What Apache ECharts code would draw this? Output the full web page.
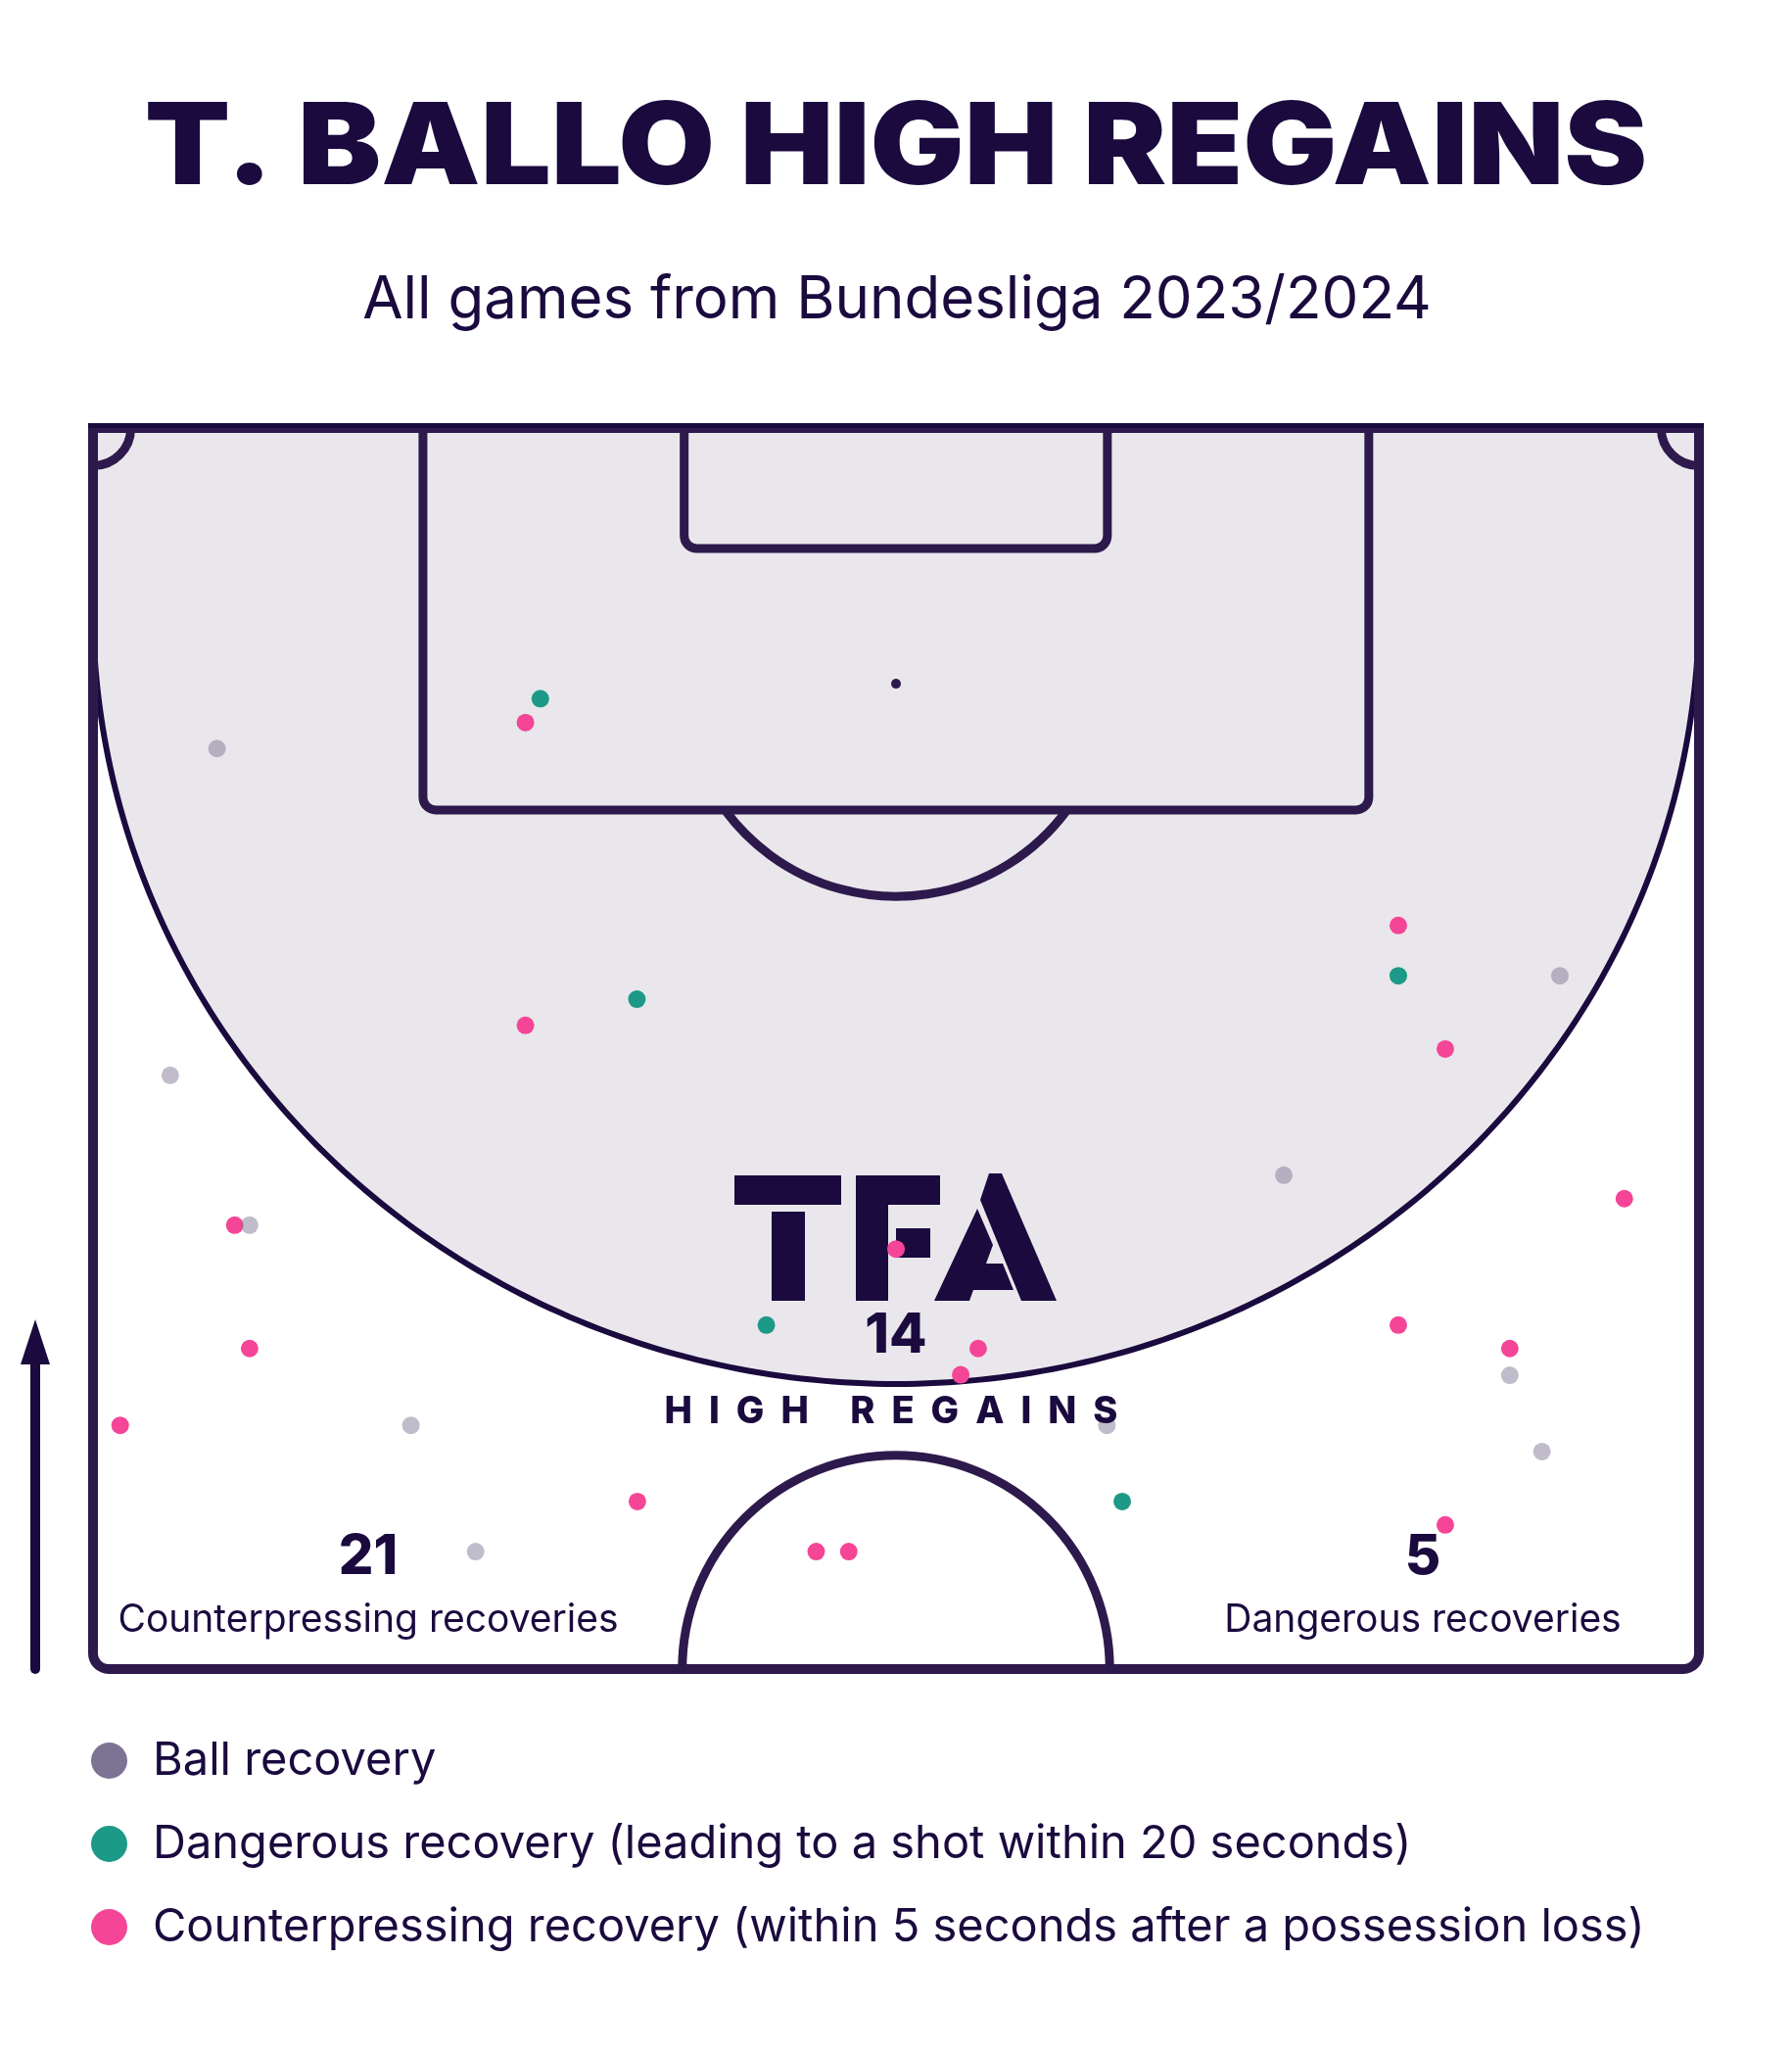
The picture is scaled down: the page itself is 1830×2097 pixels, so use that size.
<!DOCTYPE html>
<html><head><meta charset="utf-8">
<script src="https://cdn.jsdelivr.net/npm/echarts@6/dist/echarts.min.js"></script>
<style>html,body{margin:0;padding:0;background:#fff}#c{width:1830px;height:2097px}</style>
</head><body><div id="c"></div>
<script>
// ---- data (pitch metres: x across 0-68, y from goal line 0 to halfway 52.5) ----
const seriesNames = [
  'Ball recovery',
  'Dangerous recovery (leading to a shot within 20 seconds)',
  'Counterpressing recovery (within 5 seconds after a possession loss)'
];
const ballRecovery = [[5.25,13.56],[3.27,27.38],[6.63,33.72],[13.46,42.19],[16.20,47.53],[50.42,31.61],[62.11,23.17],[59.99,40.07],[61.35,43.30],[42.93,42.19]];
const dangerousRecovery = [[18.94,11.45],[23.03,24.16],[28.51,37.95],[55.27,23.17],[43.58,45.41]];
const counterpressingRecovery = [[18.31,12.46],[18.31,25.27],[6.00,33.72],[6.63,38.94],[1.15,42.19],[23.05,45.41],[30.62,47.53],[32.00,47.53],[34.00,34.73],[37.48,38.94],[36.74,40.05],[55.27,21.04],[57.26,26.27],[64.84,32.60],[55.27,37.95],[59.99,38.94],[57.26,46.40]];
const highRegainsCount = 14;
const counterpressingCount = 21;
const dangerousCount = 5;

// ---- styling ----
const TEXT = '#1a0a3e';
const LINE = '#2e194c';
const FONT = 'Inter, "Noto Sans", sans-serif';
const PITCH_W = 68, PITCH_L = 52.5;

function renderPitch(params, api) {
  const P = (x, y) => api.coord([x, y]);
  const tl = P(0, 0), br = P(PITCH_W, PITCH_L);
  const sx = (br[0] - tl[0]) / PITCH_W;
  const lw = 9;
  const ch = [];
  // high-regain zone
  const zCy = 7.58, zRx = 34, zRy = 32.86;
  const arc = [];
  for (let i = 0; i <= 240; i++) {
    const t = Math.PI * i / 240;
    arc.push(P(34 + zRx * Math.cos(t), zCy + zRy * Math.sin(t)));
  }
  ch.push({type: 'polygon', shape: {points: [P(0, 0), P(PITCH_W, 0)].concat(arc)}, style: {fill: '#e9e7ec'}});
  ch.push({type: 'polyline', shape: {points: arc}, style: {stroke: TEXT, lineWidth: 6, fill: 'none'}});
  // penalty box
  const b0 = P(13.97, 0), b1 = P(54.02, 16.16);
  ch.push({type: 'rect', shape: {x: b0[0], y: b0[1], width: b1[0] - b0[0], height: b1[1] - b0[1], r: [0, 0, 13, 13]}, style: {stroke: LINE, lineWidth: lw, fill: 'none'}});
  // six-yard box
  const s0 = P(25.03, 0), s1 = P(42.95, 5.10);
  ch.push({type: 'rect', shape: {x: s0[0], y: s0[1], width: s1[0] - s0[0], height: s1[1] - s0[1], r: [0, 0, 13, 13]}, style: {stroke: LINE, lineWidth: lw, fill: 'none'}});
  // penalty spot + arc
  const sp = P(34, 10.82);
  ch.push({type: 'circle', shape: {cx: sp[0], cy: sp[1], r: 5}, style: {fill: LINE}});
  const ar = 9.0 * sx;
  const a0 = Math.asin(Math.min(1, (b1[1] - sp[1]) / ar));
  ch.push({type: 'arc', shape: {cx: sp[0], cy: sp[1], r: ar, startAngle: a0, endAngle: Math.PI - a0, clockwise: true}, style: {stroke: LINE, lineWidth: lw, fill: 'none'}});
  // centre circle
  const cc = P(34, PITCH_L);
  ch.push({type: 'arc', shape: {cx: cc[0], cy: cc[1], r: 9.05 * sx, startAngle: Math.PI, endAngle: 2 * Math.PI, clockwise: true}, style: {stroke: LINE, lineWidth: lw, fill: 'none'}});
  // corner arcs
  const cr = 1.6 * sx;
  ch.push({type: 'arc', shape: {cx: tl[0], cy: tl[1], r: cr, startAngle: 0, endAngle: Math.PI / 2, clockwise: true}, style: {stroke: LINE, lineWidth: lw, fill: 'none'}});
  ch.push({type: 'arc', shape: {cx: br[0], cy: tl[1], r: cr, startAngle: Math.PI / 2, endAngle: Math.PI, clockwise: true}, style: {stroke: LINE, lineWidth: lw, fill: 'none'}});
  // outer boundary
  ch.push({type: 'rect', shape: {x: tl[0], y: tl[1], width: br[0] - tl[0], height: br[1] - tl[1], r: [0, 0, 16, 16]}, style: {stroke: LINE, lineWidth: 10, fill: 'none'}});
  ch.push({type: 'line', shape: {x1: tl[0] - 5, y1: tl[1] - 2.5, x2: br[0] + 5, y2: tl[1] - 2.5}, style: {stroke: TEXT, lineWidth: 5}});
  return {type: 'group', children: ch};
}

function txt(text, x, y, size, weight, align, z, scaleX) {
  const el = {type: 'text', x: x, y: y, z: z || 10, silent: true,
    style: {text: text, fill: TEXT, fontSize: size, fontWeight: weight, fontFamily: FONT,
      textAlign: align || 'center', textVerticalAlign: 'middle'}};
  if (scaleX) { el.scaleX = scaleX; }
  return el;
}

function spacedText(str, cx, cy, size, weight, spacing, z) {
  const ctx = document.createElement('canvas').getContext('2d');
  ctx.font = weight + ' ' + size + 'px ' + FONT;
  const chars = Array.from(str);
  const widths = chars.map(c => ctx.measureText(c).width);
  const total = widths.reduce((a, b) => a + b, 0) + spacing * (chars.length - 1);
  let x = cx - total / 2;
  const out = [];
  chars.forEach((c, i) => {
    if (c !== ' ') out.push(txt(c, x, cy, size, weight, 'left', z));
    x += widths[i] + spacing;
  });
  return out;
}

// TFA logo (decoration)
const LOGO = '#1a0a3e';
function poly(points) { return {type: 'polygon', z: 2, silent: true, shape: {points: points}, style: {fill: LOGO}}; }
const logo = [
  poly([[750,1200],[859,1200],[859,1230],[750,1230]]),
  poly([[788,1237],[822,1237],[822,1328],[788,1328]]),
  poly([[874,1200],[907,1200],[907,1328],[874,1328]]),
  poly([[907,1200],[960,1200],[960,1230],[907,1230]]),
  poly([[915,1254],[950,1254],[950,1284],[915,1284]]),
  poly([[1010,1198],[1023,1198],[1079,1328],[1043,1328],[1001,1225]]),
  poly([[998,1234],[1014,1271],[1007,1290],[1024,1290],[1035,1317],[994,1317],[990,1328],[954,1328]])
];

const graphics = [
  txt('T. BALLO HIGH REGAINS', 915, 153, 116, 900, 'center', 10, 1.1),
  txt('All games from Bundesliga 2023/2024', 916, 307, 60, 400),
  txt(String(highRegainsCount), 915, 1364, 56, 800),
  txt(String(counterpressingCount), 376, 1590, 56, 800),
  txt('Counterpressing recoveries', 376, 1654, 39, 400),
  txt(String(dangerousCount), 1453, 1590, 56, 800),
  txt('Dangerous recoveries', 1453, 1654, 39, 400),
  // direction arrow
  {type: 'line', silent: true, shape: {x1: 36, y1: 1704, x2: 36, y2: 1388}, style: {stroke: LOGO, lineWidth: 10, lineCap: 'round'}},
  {type: 'polygon', silent: true, shape: {points: [[36,1347],[21,1393],[51,1393]]}, style: {fill: LOGO}}
].concat(spacedText('HIGH REGAINS', 910, 1442, 38, 800, 17, 10)).concat(logo);

const chart = echarts.init(document.getElementById('c'));
chart.setOption({
  animation: false,
  backgroundColor: '#ffffff',
  grid: {left: 95, right: 95, top: 437, bottom: 393},
  xAxis: {type: 'value', min: 0, max: PITCH_W, show: false},
  yAxis: {type: 'value', min: 0, max: PITCH_L, inverse: true, show: false},
  legend: {
    data: [
      {name: seriesNames[0], itemStyle: {color: '#7d7393', opacity: 1}},
      {name: seriesNames[1], itemStyle: {color: '#1c9987', opacity: 1}},
      {name: seriesNames[2], itemStyle: {color: '#f54596', opacity: 1}}
    ],
    orient: 'vertical', left: 88, top: 1769, itemWidth: 37, itemHeight: 37, itemGap: 38,
    icon: 'circle', selectedMode: false,
    textStyle: {fontFamily: FONT, fontSize: 47, color: TEXT, padding: [0, 0, 0, 21]}
  },
  graphic: graphics,
  series: [
    {type: 'custom', renderItem: renderPitch, data: [[0, 0]], z: 1, silent: true, clip: false},
    {name: seriesNames[2], type: 'scatter', data: counterpressingRecovery, symbolSize: 18, itemStyle: {color: '#f54596', opacity: 1}, z: 3, silent: true},
    {name: seriesNames[1], type: 'scatter', data: dangerousRecovery, symbolSize: 18, itemStyle: {color: '#1c9987', opacity: 1}, z: 3, silent: true},
    {name: seriesNames[0], type: 'scatter', data: ballRecovery, symbolSize: 18, itemStyle: {color: '#7d7393', opacity: 0.48}, z: 3, silent: true}
  ]
});
</script>
</body></html>
